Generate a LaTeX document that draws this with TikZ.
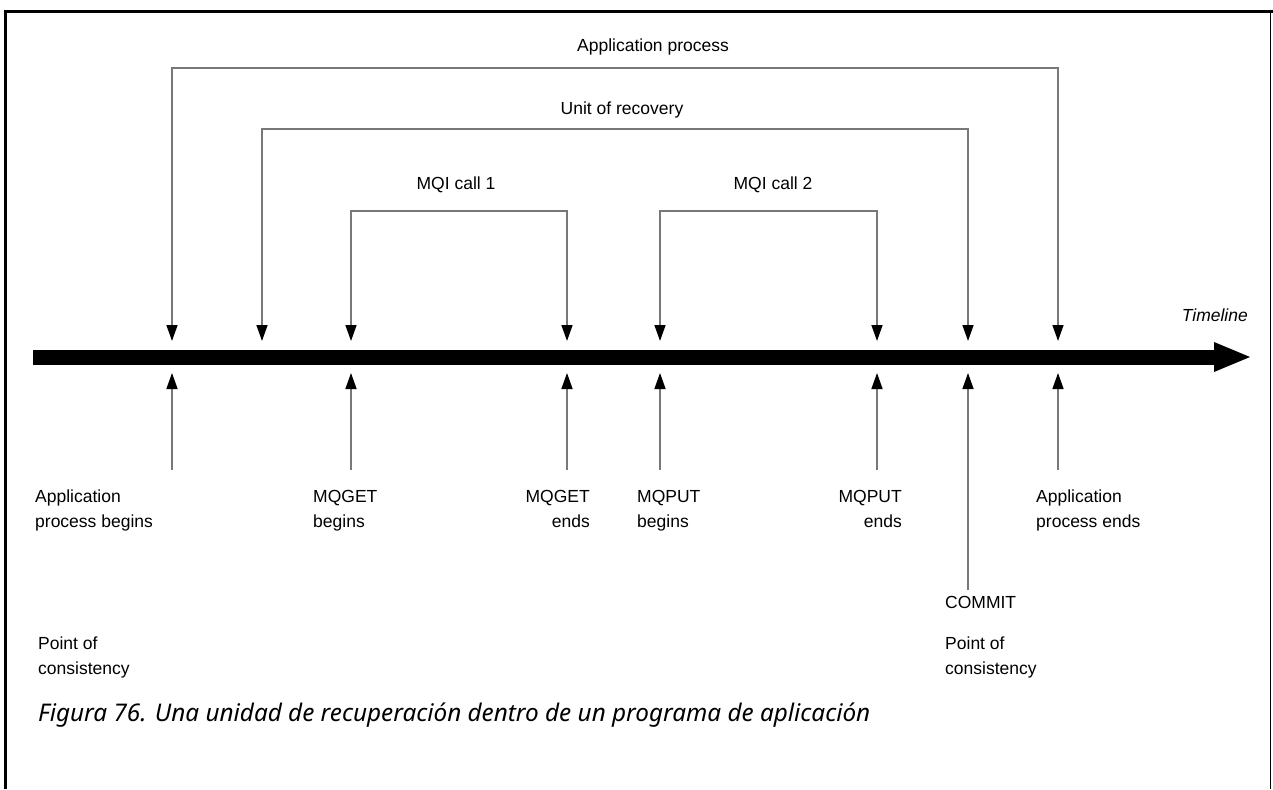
\documentclass[tikz,border=0pt]{standalone}
\usepackage{fontspec}
\setmainfont{Liberation Sans}
\newfontfamily\capfont{Noto Sans}
\usetikzlibrary{arrows.meta,calc}
\begin{document}
\begin{tikzpicture}[x=1pt,y=-1pt,
  lbl/.style={font=\fontsize{17.5}{25}\selectfont, inner sep=0pt, align=left},
  conn/.style={draw={rgb,255:red,120;green,120;blue,120}, line width=1.5pt},
  tip/.tip={Triangle[width=11pt,length=16pt,color=black]},
  down/.style={conn, tip-tip},
  up/.style={conn, -tip},
  frame/.style={draw=black, line width=3pt}]
\useasboundingbox (0,0) rectangle (1273,789);
% frame
\draw[frame] (5,789) -- (5,12) -- (1273,12);
\draw[line width=1pt] (1270,12) -- (1270,789);
% timeline
\coordinate (tlA) at (33,357);
\coordinate (tlB) at (1214,357);
\node[inner sep=0pt, minimum size=0pt] (tlEnd) at (1250,357) {};
\fill ($(tlA)+(0,-7.5)$) rectangle ($(tlB)+(0,7.5)$);
\fill (1214,342) -- (tlEnd.center) -- (1214,372) -- cycle;
\node[lbl, font=\itshape\fontsize{17.5}{25}\selectfont, anchor=east] (timeline) at (1248,315) {Timeline};
% down tips
\foreach \n/\x in {1/172,2/262,3/351,4/567,5/660,6/877,7/968,8/1058}{
  \coordinate (d\n) at (\x,341);
}
% up tips and tails
\foreach \n/\x in {1/172,3/351,4/567,5/660,6/877,8/1058}{
  \coordinate (u\n) at (\x,373);
  \coordinate (s\n) at (\x,470);
}
\coordinate (u7) at (968,373);
\coordinate (s7) at (968,590);
% bracket corners
\coordinate (apL) at (172,68);   \coordinate (apR) at (1058,68);
\coordinate (urL) at (262,129);  \coordinate (urR) at (968,129);
\coordinate (m1L) at (351,211);  \coordinate (m1R) at (567,211);
\coordinate (m2L) at (660,211);  \coordinate (m2R) at (877,211);
% brackets
\draw[down] (d1) -- (apL) -- (apR) -- (d8);
\draw[down] (d2) -- (urL) -- (urR) -- (d7);
\draw[down] (d3) -- (m1L) -- (m1R) -- (d4);
\draw[down] (d5) -- (m2L) -- (m2R) -- (d6);
% bracket labels
\node[lbl] (apLabel) at (653,47) {Application process};
\node[lbl] (urLabel) at (622,110) {Unit of recovery};
\node[lbl] (m1Label) at (456,185) {MQI call 1};
\node[lbl] (m2Label) at (773,185) {MQI call 2};
% up arrows
\foreach \n in {1,3,4,5,6,7,8}{
  \draw[up] (s\n) -- (u\n);
}
% bottom labels
\node[lbl, anchor=north west] (l1) at (35,490) {Application\\process begins};
\node[lbl, anchor=north west] (l3) at (313,490) {MQGET\\begins};
\node[lbl, anchor=north east, align=right] (l4) at (590,490) {MQGET\\ends};
\node[lbl, anchor=north west] (l5) at (637,490) {MQPUT\\begins};
\node[lbl, anchor=north east, align=right] (l6) at (902,490) {MQPUT\\ends};
\node[lbl, anchor=north west] (l8) at (1036,490) {Application\\process ends};
\node[lbl, anchor=west] (commit) at (945,602) {COMMIT};
\node[lbl, anchor=north west] (poc2) at (945,637) {Point of\\consistency};
\node[lbl, anchor=north west] (poc1) at (38,637) {Point of\\consistency};
% caption
\node[anchor=west, inner sep=0pt, font=\capfont\itshape\fontsize{24.3}{28}\selectfont] (caption) at (38,715)
  {Figura 76. Una unidad de recuperación dentro de un programa de aplicación};
\end{tikzpicture}
\end{document}
